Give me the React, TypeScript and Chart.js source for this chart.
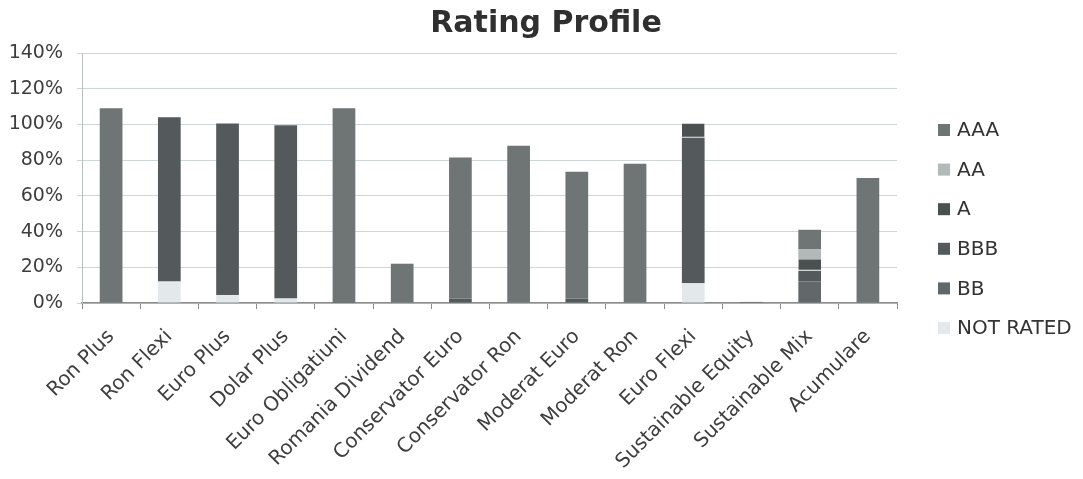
import React, { useEffect, useRef } from "react";
import { Chart, registerables } from "chart.js";

Chart.register(...registerables);

const categories = [
  "Ron Plus",
  "Ron Flexi",
  "Euro Plus",
  "Dolar Plus",
  "Euro Obligatiuni",
  "Romania Dividend",
  "Conservator Euro",
  "Conservator Ron",
  "Moderat Euro",
  "Moderat Ron",
  "Euro Flexi",
  "Sustainable Equity",
  "Sustainable Mix",
  "Acumulare",
];

// stacked bottom -> top
const notRated = [0, 12, 4.5, 2.5, 0, 0, 0, 0, 0, 0, 11, 0, 0, 0];
const bb = [0, 0, 0, 0, 0, 0, 0, 0, 0, 0, 0, 0.6, 12, 0];
const bbb = [0, 92, 96, 97, 1, 0, 2.5, 0, 2.5, 0, 81.5, 0, 6, 0];
const a = [0, 0, 0, 0, 0, 0, 0, 0, 0, 0, 8, 0, 6.5, 0];
const aa = [0, 0, 0, 0, 0, 0, 0, 0, 0, 0, 0, 0, 5.5, 0];
const aaa = [109, 0, 0, 0, 108, 22, 79, 88, 71, 78, 0, 0, 11, 70];

const yTicks = [0, 20, 40, 60, 80, 100, 120, 140];

const FONT = "'DejaVu Sans', sans-serif";

const sideLegend = {
  id: "sideLegend",
  afterDraw(chart: any) {
    const ctx = chart.ctx;
    const ds = chart.data.datasets;
    const n = ds.length;
    ctx.save();
    ctx.font = `20px ${FONT}`;
    ctx.textBaseline = "middle";
    ctx.textAlign = "left";
    const x0 = chart.chartArea.right + 41;
    const top = chart.chartArea.top + 77;
    for (let i = 0; i < n; i++) {
      const d = ds[n - 1 - i];
      const y = top + i * 39.6;
      ctx.fillStyle = d.backgroundColor;
      ctx.fillRect(x0, y - 6, 12, 12);
      ctx.fillStyle = "#333333";
      ctx.fillText(d.label, x0 + 19, y + 1);
    }
    ctx.restore();
  },
};

export default function App() {
  const ref = useRef<HTMLCanvasElement | null>(null);

  useEffect(() => {
    if (!ref.current) return;
    const chart = new Chart(ref.current, {
      type: "bar",
      data: {
        labels: categories,
        datasets: [
          { label: "NOT RATED", data: notRated, backgroundColor: "#e3e9eb" },
          { label: "BB", data: bb, backgroundColor: "#62686a" },
          { label: "BBB", data: bbb, backgroundColor: "#545a5b" },
          {
            label: "A",
            data: a,
            backgroundColor: "#4b5051",
            borderColor: "#d6dada",
            borderWidth: { top: 0, left: 0, right: 0, bottom: 1 },
            borderSkipped: false,
          },
          { label: "AA", data: aa, backgroundColor: "#b3b8b9" },
          { label: "AAA", data: aaa, backgroundColor: "#6f7475" },
        ],
      },
      options: {
        responsive: false,
        animation: false,
        layout: { padding: { left: 9, right: 0, top: 0, bottom: 0 } },
        datasets: {
          bar: { categoryPercentage: 1, barPercentage: 0.39 },
        },
        plugins: {
          legend: { display: false },
          tooltip: { enabled: false },
          title: {
            display: true,
            text: "Rating Profile",
            color: "#2f2f2f",
            font: { family: FONT, size: 30, weight: "bold" },
            padding: { top: 6, bottom: 11 },
          },
        },
        scales: {
          x: {
            stacked: true,
            afterFit: (s: any) => {
              s.paddingLeft = 0;
              s.paddingRight = 186;
              s.height = 176;
            },
            grid: {
              display: true,
              drawOnChartArea: false,
              drawTicks: true,
              tickLength: 6,
              offset: true,
              color: "#8c8c8c",
            },
            border: { color: "#8c8c8c", width: 1.5 },
            ticks: {
              autoSkip: false,
              minRotation: 45,
              maxRotation: 45,
              color: "#3e3e3e",
              font: { family: FONT, size: 20 },
              padding: 16,
            },
          },
          y: {
            stacked: true,
            min: 0,
            max: 140,
            afterBuildTicks: (scale: any) => {
              scale.ticks = yTicks.map((v) => ({ value: v }));
            },
            afterFit: (s: any) => {
              s.width = 73;
            },
            grid: {
              color: "#cfd6d6",
              tickLength: 5,
            },
            border: { color: "#b9bfbf" },
            ticks: {
              color: "#3e3e3e",
              font: { family: FONT, size: 19 },
              padding: 14,
              callback: (v: any) => v + "%",
            },
          },
        },
      },
      plugins: [sideLegend],
    });
    return () => chart.destroy();
  }, []);

  return (
    <canvas
      ref={ref}
      width={1083}
      height={479}
      style={{ position: "absolute", left: 0, top: 0, background: "#ffffff" }}
    />
  );
}
